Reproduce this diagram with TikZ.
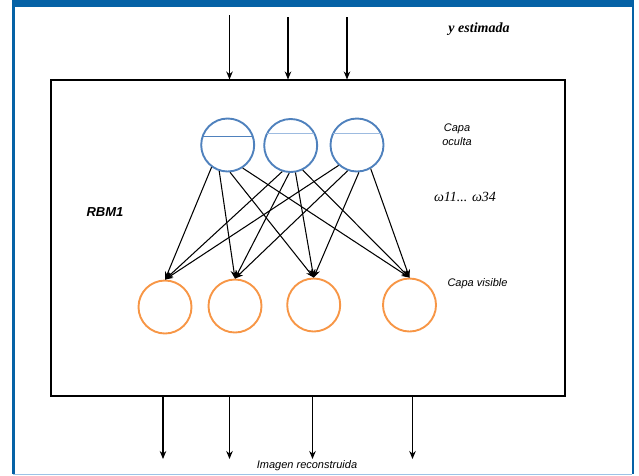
\documentclass[tikz,border=0pt]{standalone}
\usepackage{fontspec}
\setmainfont{Liberation Serif}
\setsansfont{Liberation Sans}
\usetikzlibrary{arrows.meta,calc}
\definecolor{frameblue}{HTML}{0562A6}
\definecolor{lightframe}{HTML}{9DC3E6}
\definecolor{hidblue}{HTML}{4F81BD}
\definecolor{chordlight}{HTML}{9DBBE0}
\definecolor{visorange}{HTML}{F79646}
\begin{document}
\begin{tikzpicture}[x=1pt,y=-1pt,
  hid/.style={circle, draw=hidblue, line width=1.9, minimum size=53, inner sep=0},
  vis/.style={circle, draw=visorange, line width=1.9, minimum size=53, inner sep=0},
  arr/.style={-{Stealth[length=8,width=6.5]}, line width=1.05, black},
  sflabel/.style={font=\sffamily\itshape\fontsize{11}{13.5}\selectfont, inner sep=0},
  rmlabel/.style={font=\rmfamily\itshape\fontsize{14}{16}\selectfont, inner sep=0}]
\useasboundingbox (0,0) rectangle (639,475);
% frame
\fill[frameblue] (11.5,0) rectangle (634.3,7);
\fill[frameblue] (11.5,0) rectangle (14.5,474);
\fill[frameblue] (631.7,0) rectangle (634.3,474);
\fill[lightframe] (13,473.5) rectangle (632,475);
% box
\node[draw, line width=2, minimum width=514, minimum height=316.5, inner sep=0, outer sep=0] (box) at (308,237.75) {};
% hidden layer
\node[hid] (h1) at (227.7,145) {};
\node[hid] (h2) at (290.7,145.5) {};
\node[hid] (h3) at (357,145) {};
\draw[hidblue, line width=0.9] ($(h1.center)+(-25.5,-9)$) -- ($(h1.center)+(25.5,-9)$);
\draw[chordlight, line width=0.9] ($(h2.center)+(-23.6,-12)$) -- ($(h2.center)+(23.6,-12)$);
\draw[chordlight, line width=0.9] ($(h3.center)+(-23.6,-12)$) -- ($(h3.center)+(23.6,-12)$);
% visible layer
\node[vis] (v1) at (165,307) {};
\node[vis] (v2) at (235,306) {};
\node[vis] (v3) at (313.7,305) {};
\node[vis] (v4) at (409.5,305) {};
% weights
\draw[arr] (h1.-126) -- (v1.north);
\draw[arr] (h1.-108) -- (v2.north);
\draw[arr] (h1.-85) -- (v3.north);
\draw[arr] (h1.-57) -- (v4.north);
\draw[arr] (h2.-108) -- (v1.north);
\draw[arr] (h2.-93) -- (v2.north);
\draw[arr] (h2.-80) -- (v3.north);
\draw[arr] (h2.-64) -- (v4.north);
\draw[arr] (h3.-132) -- (v1.north);
\draw[arr] (h3.-110) -- (v2.north);
\draw[arr] (h3.-86) -- (v3.north);
\draw[arr] (h3.-60) -- (v4.north);
% input arrows
\coordinate (t1) at (229.5,15);
\coordinate (t2) at (288,17);
\coordinate (t3) at (347,17);
\draw[arr] (t1) -- (t1 |- box.north);
\draw[arr] (t2) -- (t2 |- box.north);
\draw[arr] (t3) -- (t3 |- box.north);
% output arrows
\coordinate (b1) at (163,459);
\coordinate (b2) at (229.5,459);
\coordinate (b3) at (312.5,459);
\coordinate (b4) at (412.5,459);
\draw[arr] (b1 |- box.south) -- (b1);
\draw[arr] (b2 |- box.south) -- (b2);
\draw[arr] (b3 |- box.south) -- (b3);
\draw[arr] (b4 |- box.south) -- (b4);
% labels
\node[rmlabel, font=\rmfamily\bfseries\itshape\fontsize{14}{16}\selectfont] (yest) at (479,29.5) {y estimada};
\node[sflabel, align=center] (oculta) at (457,134.5) {Capa\\oculta};
\node[rmlabel] (omega) at (465,197) {ω11... ω34};
\node[font=\sffamily\bfseries\itshape\fontsize{13}{15}\selectfont, inner sep=0] (rbm) at (105,212.5) {RBM1};
\node[sflabel] (visible) at (477.5,284) {Capa visible};
\node[sflabel] (imagen) at (307,465.5) {Imagen reconstruida};
\end{tikzpicture}
\end{document}
